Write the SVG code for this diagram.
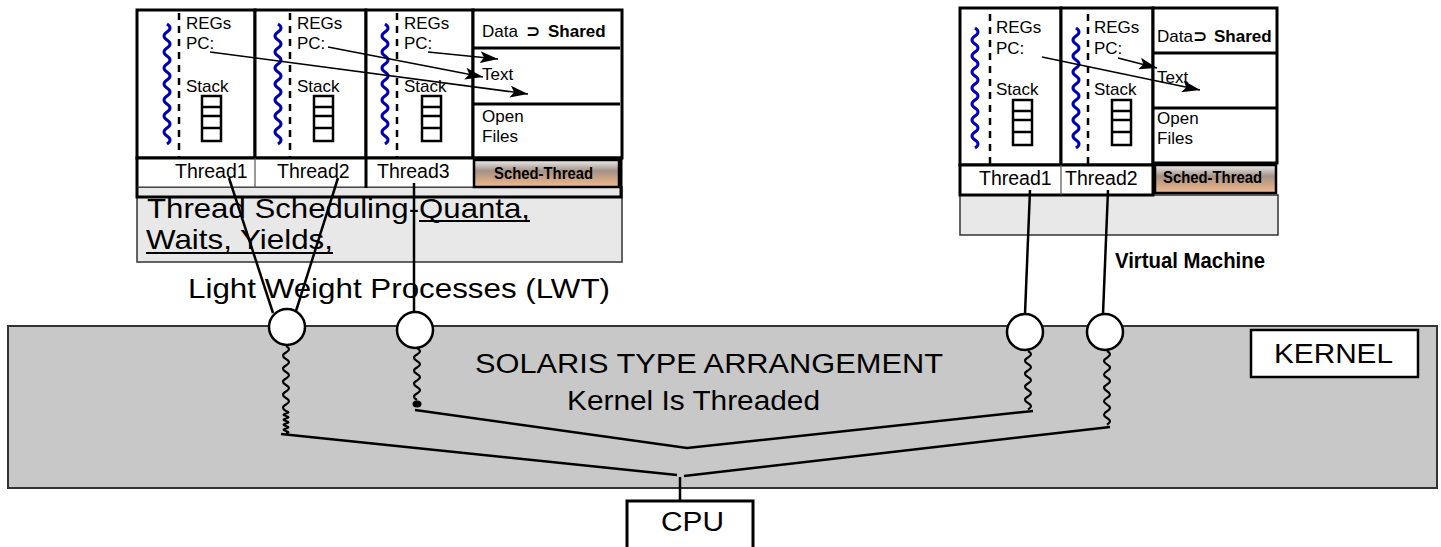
<svg xmlns="http://www.w3.org/2000/svg" xmlns:xlink="http://www.w3.org/1999/xlink" width="1441" height="547" viewBox="0 0 1441 547">
  <style>
    .box { fill: #ffffff; stroke: #000; stroke-width: 3; }
    .thin { fill: none; stroke: #000; stroke-width: 1.2; }
    .gray { fill: #e8e8e8; stroke: #333; stroke-width: 1.5; }
    .sep { stroke: #000; stroke-width: 3; }
    .dash { stroke: #000; stroke-width: 2.5; stroke-dasharray: 7 6; fill: none; }
    .bwave { fill: none; stroke: #0000b4; stroke-width: 3; }
    .kwave { fill: none; stroke: #000; stroke-width: 2.2; }
    .wire { fill: none; stroke: #000; stroke-width: 2.5; }
    .ptr { fill: none; stroke: #000; stroke-width: 1.5; marker-end: url(#head); }
    .lwp { fill: #fff; stroke: #000; stroke-width: 2.5; }
    .t { font-family: "Liberation Sans", Arial, sans-serif; fill: #000; }
    .s17 { font-size: 17px; }
    .lbl { font-size: 19.5px; }
    .big { font-size: 28px; }
    .b { font-weight: bold; }
    .sup { font-family: "DejaVu Sans", sans-serif; font-weight: bold; }
    .sched { fill: url(#schedFill); stroke: #000; stroke-width: 2.5; }
  </style>
  <defs>
    <linearGradient id="schedFill" x1="0" y1="0" x2="0" y2="1">
      <stop offset="0" stop-color="#f0f0f0"/>
      <stop offset="0.4" stop-color="#a39288"/>
      <stop offset="0.72" stop-color="#d2a686"/>
      <stop offset="1" stop-color="#ebbc96"/>
    </linearGradient>
    <marker id="head" markerUnits="userSpaceOnUse" markerWidth="18" markerHeight="12" refX="18" refY="6" orient="auto">
      <path d="M0,0 L18,6 L0,12 L4,6 z" fill="#000"/>
    </marker>
    <!-- user thread squiggle -->
    <path id="bw" class="bwave" d="M0,0 q6,4 0,8 t0,8 t0,8 t0,8 t0,8 t0,8 t0,8 t0,8 t0,8 t0,8 t0,8 t0,8 t0,8 t0,8 t0,8"/>
    <!-- per-thread stack -->
    <g id="stk">
      <rect x="0" y="0" width="19" height="45" fill="none" stroke="#000" stroke-width="2.5"/>
      <line x1="0" y1="11" x2="19" y2="11" stroke="#000" stroke-width="2.5"/>
      <line x1="0" y1="20" x2="19" y2="20" stroke="#000" stroke-width="2.5"/>
      <line x1="0" y1="32" x2="19" y2="32" stroke="#000" stroke-width="2.5"/>
    </g>
  </defs>

  <rect width="1441" height="547" fill="#fff"/>

  <!-- kernel band -->
  <g id="kernel">
    <rect x="8" y="326" width="1429" height="162" fill="#c8c8c8" stroke="#333" stroke-width="2"/>
    <rect x="1251" y="330" width="167" height="47" fill="#fff" stroke="#000" stroke-width="2.5"/>
    <text class="t big" x="1274" y="363" textLength="119" lengthAdjust="spacingAndGlyphs">KERNEL</text>
    <text class="t" font-size="27" x="475" y="373" textLength="468" lengthAdjust="spacingAndGlyphs">SOLARIS TYPE ARRANGEMENT</text>
    <text class="t" font-size="27" x="567" y="410" textLength="253" lengthAdjust="spacingAndGlyphs">Kernel Is Threaded</text>
  </g>

  <!-- process with three user threads -->
  <g id="process-left">
    <rect class="gray" x="137" y="187" width="485" height="75"/>
    <rect class="box" x="137" y="10" width="118" height="148"/>
    <rect class="box" x="255" y="10" width="111" height="148"/>
    <rect class="box" x="366" y="10" width="107" height="148"/>
    <rect class="box" x="473" y="10" width="149" height="148"/>
    <line class="sep" x1="473" y1="48" x2="620" y2="48"/>
    <line class="sep" x1="473" y1="104" x2="620" y2="104"/>

    <g id="thread-l1">
      <use xlink:href="#bw" x="167" y="24"/>
      <line class="dash" x1="179" y1="13" x2="179" y2="158"/>
      <text class="t s17" x="186" y="29">REGs</text>
      <text class="t s17" x="186" y="49">PC:</text>
      <text class="t s17" x="186" y="92">Stack</text>
      <use xlink:href="#stk" x="202" y="96"/>
    </g>
    <g id="thread-l2">
      <use xlink:href="#bw" x="278" y="24"/>
      <line class="dash" x1="290" y1="13" x2="290" y2="158"/>
      <text class="t s17" x="297" y="29">REGs</text>
      <text class="t s17" x="297" y="49">PC:</text>
      <text class="t s17" x="297" y="92">Stack</text>
      <use xlink:href="#stk" x="314" y="96"/>
    </g>
    <g id="thread-l3">
      <use xlink:href="#bw" x="385" y="24"/>
      <line class="dash" x1="397" y1="13" x2="397" y2="158"/>
      <text class="t s17" x="404" y="29">REGs</text>
      <text class="t s17" x="404" y="49">PC:</text>
      <text class="t s17" x="404" y="92">Stack</text>
      <use xlink:href="#stk" x="422" y="96"/>
    </g>

    <text class="t s17" x="482" y="37">Data<tspan class="sup" x="526">⊃</tspan><tspan class="b" x="548">Shared</tspan></text>
    <text class="t s17" x="482" y="80">Text</text>
    <text class="t s17" x="482" y="122">Open</text>
    <text class="t s17" x="482" y="142">Files</text>

    <rect x="138" y="159" width="335" height="28" fill="#fff"/>
    <rect x="137" y="158" width="484" height="39" fill="none" stroke="#000" stroke-width="3"/>
    <line x1="137" y1="187" x2="621" y2="187" stroke="#333" stroke-width="1.2"/>
    <line x1="255" y1="158" x2="255" y2="187" stroke="#555" stroke-width="1.2"/>
    <line class="sep" x1="366" y1="158" x2="366" y2="188"/>
    <rect class="sched" x="474" y="160" width="145" height="27"/>
    <text class="t lbl" x="175" y="178">Thread1</text>
    <text class="t lbl" x="277" y="178">Thread2</text>
    <text class="t lbl" x="377" y="178">Thread3</text>
    <text class="t b" font-size="16" x="494" y="179" textLength="99" lengthAdjust="spacingAndGlyphs">Sched-Thread</text>

    <text class="t big" x="147" y="218" textLength="383" lengthAdjust="spacingAndGlyphs">Thread Scheduling-Quanta,</text>
    <line x1="419" y1="221" x2="530" y2="221" stroke="#000" stroke-width="2.2"/>
    <text class="t big" x="146" y="249" textLength="187" lengthAdjust="spacingAndGlyphs">Waits, Yields,</text>
    <line x1="146" y1="253" x2="333" y2="253" stroke="#000" stroke-width="2.2"/>
  </g>

  <!-- process with two user threads -->
  <g id="process-right">
    <rect class="gray" x="960" y="195" width="318" height="40"/>
    <rect class="box" x="960" y="8" width="101" height="157"/>
    <rect class="box" x="1061" y="8" width="92" height="157"/>
    <rect class="box" x="1153" y="8" width="124" height="155"/>
    <line class="sep" x1="1153" y1="53" x2="1277" y2="53"/>
    <line class="sep" x1="1153" y1="108" x2="1277" y2="108"/>

    <g id="thread-r1">
      <use xlink:href="#bw" x="975" y="28"/>
      <line class="dash" x1="990" y1="14" x2="990" y2="165"/>
      <text class="t s17" x="996" y="33">REGs</text>
      <text class="t s17" x="996" y="54">PC:</text>
      <text class="t s17" x="996" y="95">Stack</text>
      <use xlink:href="#stk" x="1013" y="100"/>
    </g>
    <g id="thread-r2">
      <use xlink:href="#bw" x="1076" y="28"/>
      <line class="dash" x1="1088" y1="14" x2="1088" y2="165"/>
      <text class="t s17" x="1094" y="33">REGs</text>
      <text class="t s17" x="1094" y="54">PC:</text>
      <text class="t s17" x="1094" y="95">Stack</text>
      <use xlink:href="#stk" x="1112" y="100"/>
    </g>

    <text class="t s17" x="1157" y="42">Data<tspan class="sup" x="1193">⊃</tspan><tspan class="b" x="1214">Shared</tspan></text>
    <text class="t s17" x="1157" y="83">Text</text>
    <text class="t s17" x="1157" y="124">Open</text>
    <text class="t s17" x="1157" y="144">Files</text>

    <rect x="960" y="165" width="193" height="30" fill="#fff" stroke="#000" stroke-width="3"/>
    <line x1="1061" y1="165" x2="1061" y2="195" stroke="#555" stroke-width="1.2"/>
    <rect class="sched" x="1155" y="165" width="121" height="28"/>
    <text class="t lbl" x="979" y="185">Thread1</text>
    <text class="t lbl" x="1065" y="185">Thread2</text>
    <text class="t b" font-size="16" x="1163" y="183" textLength="99" lengthAdjust="spacingAndGlyphs">Sched-Thread</text>
    <text class="t b" font-size="22" x="1115" y="268" textLength="150" lengthAdjust="spacingAndGlyphs">Virtual Machine</text>
  </g>

  <text class="t big" x="188" y="298" textLength="422" lengthAdjust="spacingAndGlyphs">Light Weight Processes (LWT)</text>

  <!-- CPU -->
  <g id="cpu">
    <rect x="627" y="501" width="126" height="60" fill="#fff" stroke="#000" stroke-width="3"/>
    <text class="t" font-size="27" x="661" y="531" textLength="63" lengthAdjust="spacingAndGlyphs">CPU</text>
  </g>

  <!-- connectors -->
  <g id="connectors">
    <!-- PC pointers into the shared text segment -->
    <line class="ptr" x1="210" y1="52" x2="528" y2="94"/>
    <line class="ptr" x1="328" y1="47" x2="483" y2="77"/>
    <line class="ptr" x1="428" y1="52" x2="498" y2="59"/>
    <line class="ptr" x1="1042" y1="57" x2="1200" y2="90"/>
    <line class="ptr" x1="1118" y1="58" x2="1157" y2="68"/>

    <!-- user threads bound to LWPs -->
    <line class="wire" x1="229" y1="178" x2="273" y2="313"/>
    <line class="wire" x1="338" y1="178" x2="296" y2="311"/>
    <line class="wire" x1="414" y1="183" x2="414" y2="312"/>
    <line class="wire" x1="1030" y1="190" x2="1025" y2="314"/>
    <line class="wire" x1="1108" y1="190" x2="1103" y2="314"/>

    <!-- kernel threads -->
    <path class="kwave" d="M286,346 q6,3.25 0,6.5 t0,6.5 t0,6.5 t0,6.5 t0,6.5 t0,6.5 t0,6.5 t0,6.5 t0,6.5 t0,6.5 q5,1.25 0,2.5 t0,2.5 t0,2.5 t0,2.5 t0,2.5 t0,2.5 t0,2.5 t0,2.5 t0,2.5"/>
    <path class="kwave" d="M417,348 q6,3.25 0,6.5 t0,6.5 t0,6.5 t0,6.5 t0,6.5 t0,6.5 t0,6.5 t0,6.5"/>
    <ellipse cx="417" cy="404" rx="4.5" ry="3.5" fill="#000"/>
    <path class="kwave" d="M1028,351 q6,3.25 0,6.5 t0,6.5 t0,6.5 t0,6.5 t0,6.5 t0,6.5 t0,6.5 t0,6.5 t0,6.5"/>
    <path class="kwave" d="M1107,351 q6,3.35 0,6.7 t0,6.7 t0,6.7 t0,6.7 t0,6.7 t0,6.7 t0,6.7 t0,6.7 t0,6.7 t0,6.7 t0,6.7"/>

    <!-- kernel threads scheduled onto the CPU -->
    <polyline class="wire" points="415,410 687,448 1033,411"/>
    <polyline class="wire" points="281,434 677,475"/>
    <polyline class="wire" points="684,476 1110,427"/>
    <line class="wire" x1="680" y1="477" x2="680" y2="501"/>
  </g>

  <!-- light weight processes -->
  <g id="lwp">
    <circle class="lwp" cx="287" cy="327" r="18"/>
    <circle class="lwp" cx="415" cy="330" r="18"/>
    <circle class="lwp" cx="1025" cy="332" r="18"/>
    <circle class="lwp" cx="1105" cy="332" r="18"/>
  </g>
</svg>
